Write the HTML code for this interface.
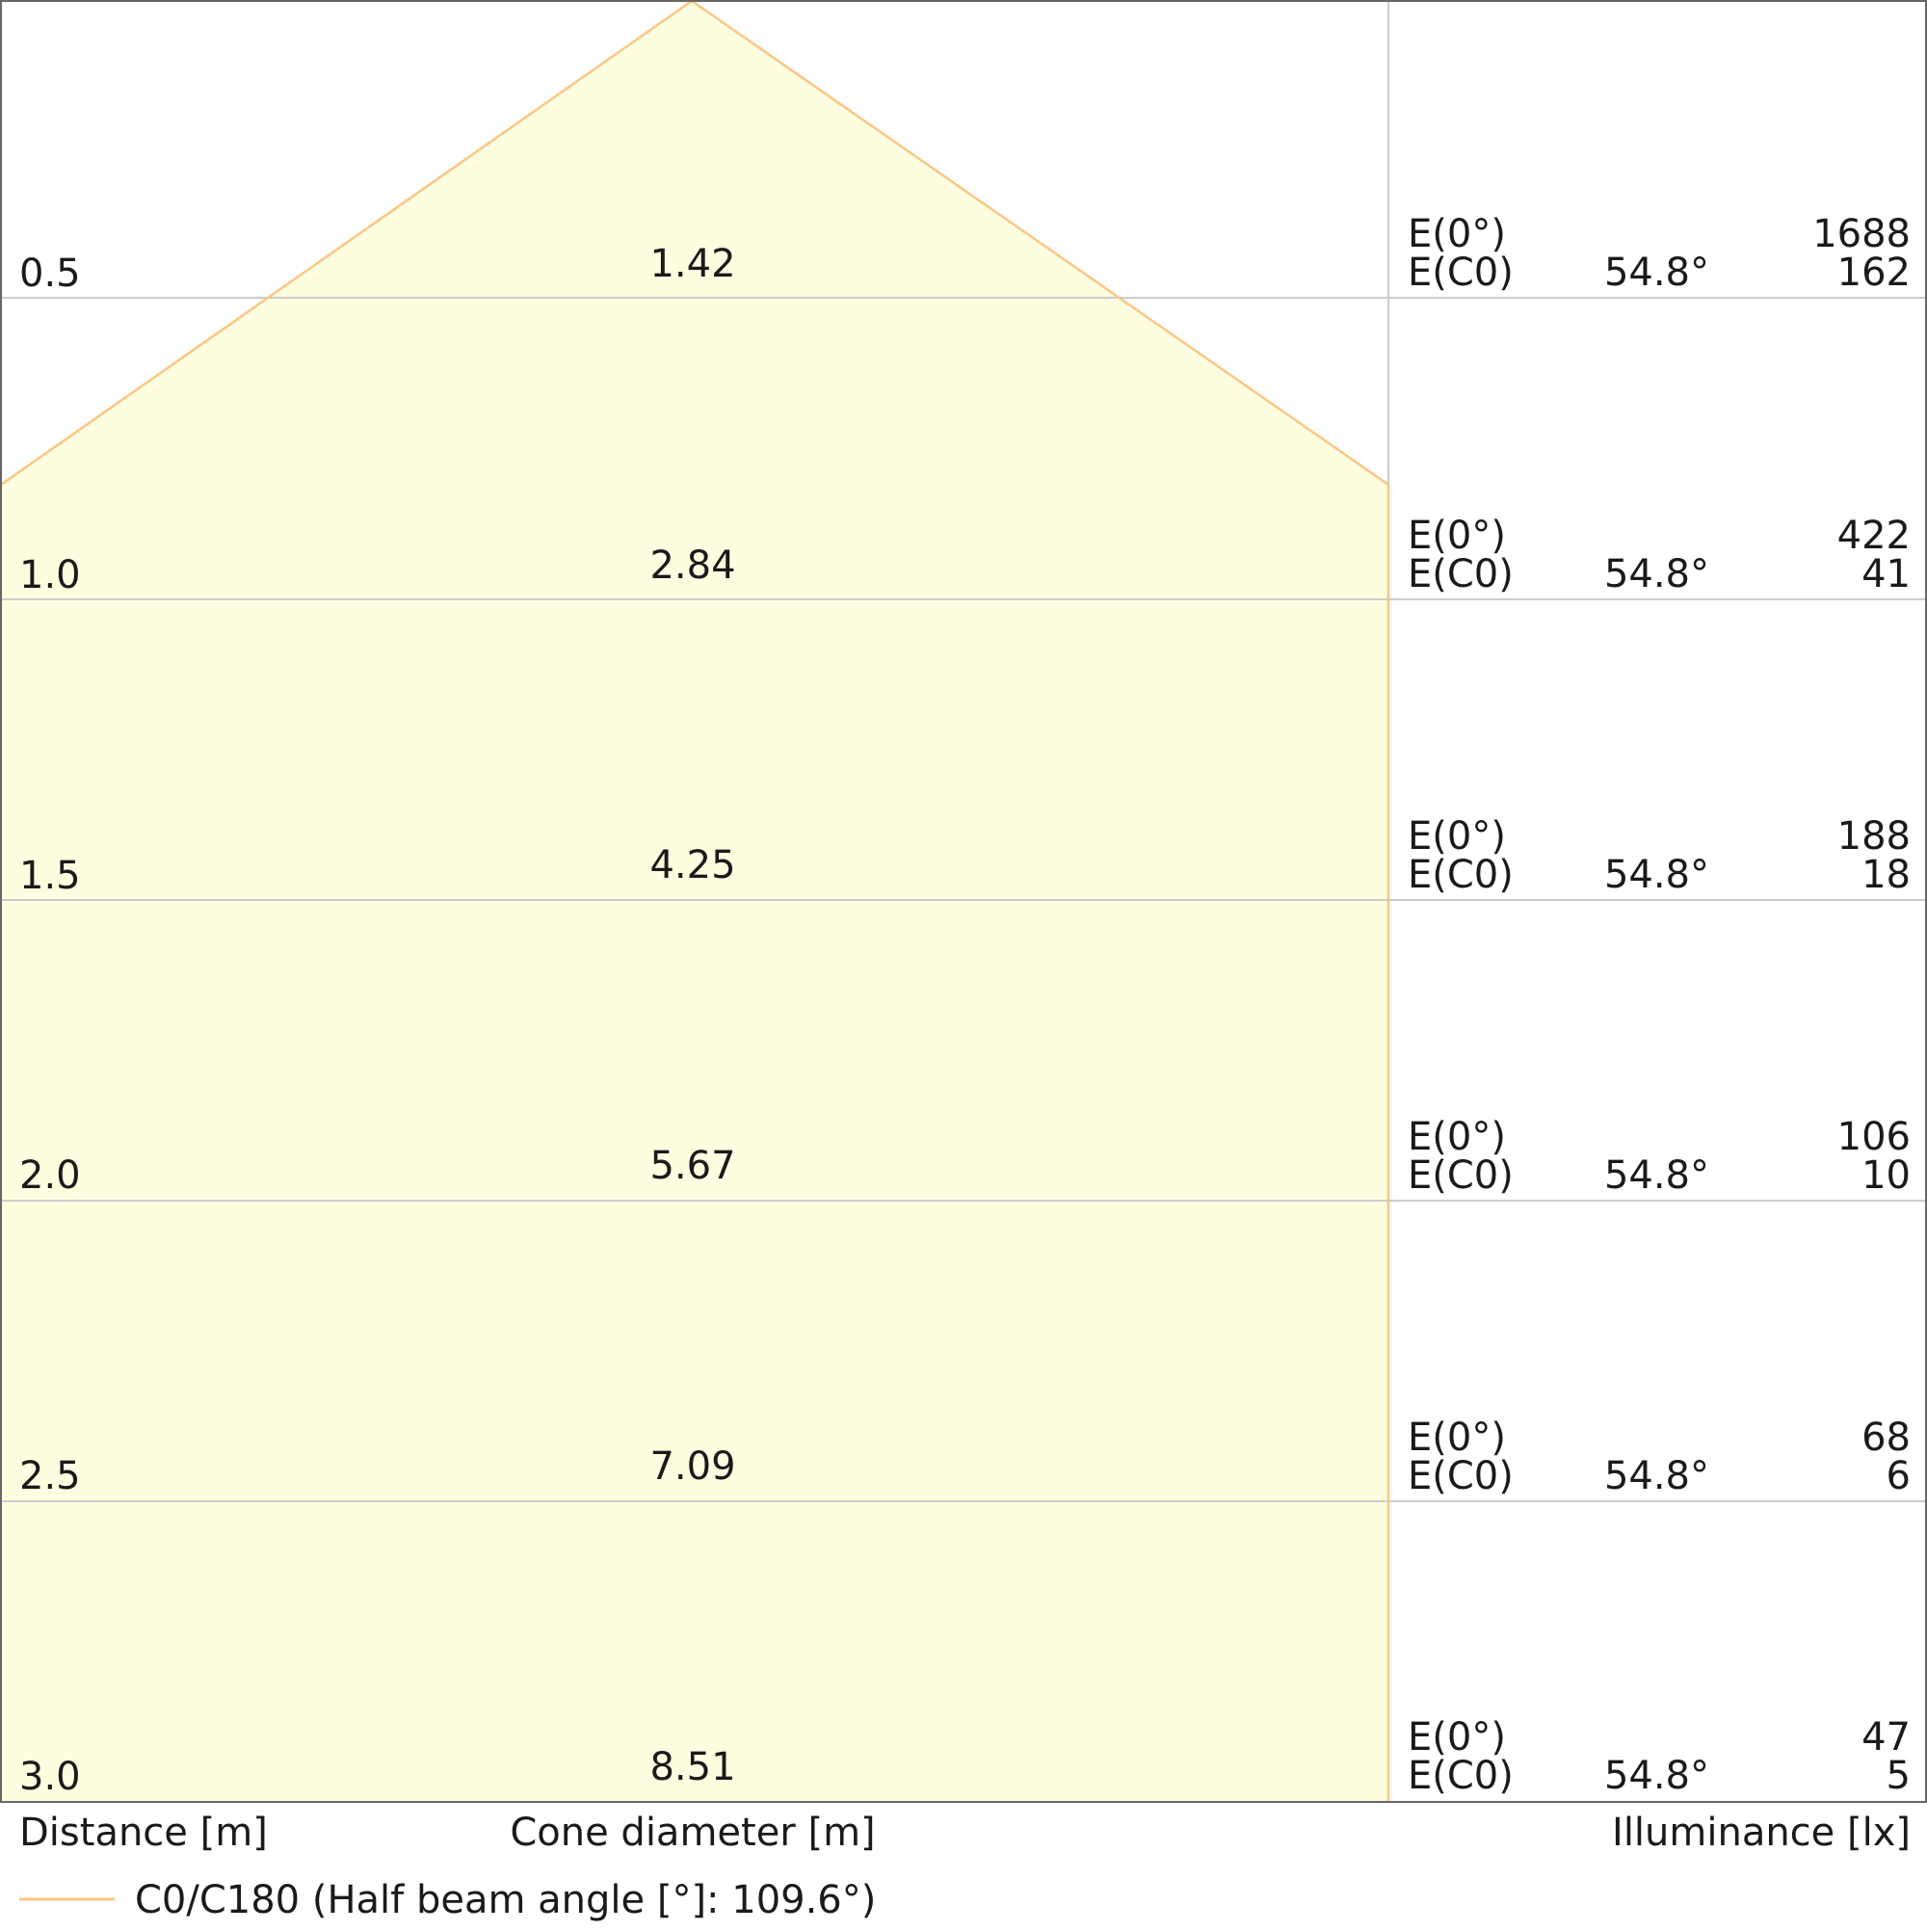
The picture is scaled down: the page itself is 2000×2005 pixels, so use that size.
<!DOCTYPE html>
<html><head><meta charset="utf-8"><style>
html,body{margin:0;padding:0;background:#fff;}
svg text{font-family:"DejaVu Sans","Liberation Sans",sans-serif;font-size:40px;fill:#1a1a1a;}
</style></head><body>
<svg width="2000" height="2000" viewBox="0 0 2000 2000" xmlns="http://www.w3.org/2000/svg">
<rect x="0" y="0" width="2000" height="2000" fill="#fff"/>
<polygon points="1,503 718,1 1441,503 1441,1870 1,1870" fill="#fefde0"/>
<g stroke="#cccccc" stroke-width="2">
<line x1="1" y1="309" x2="1999" y2="309"/>
<line x1="1" y1="622" x2="1999" y2="622"/>
<line x1="1" y1="934" x2="1999" y2="934"/>
<line x1="1" y1="1246" x2="1999" y2="1246"/>
<line x1="1" y1="1558" x2="1999" y2="1558"/>
<line x1="1441" y1="1" x2="1441" y2="1870"/>
</g>
<polyline points="1,503 718,1 1441,503 1441,1870" fill="none" stroke="#fbc583" stroke-width="2.5"/>
<rect x="1" y="1" width="1998" height="1869" fill="none" stroke="#666" stroke-width="2"/>
<g>
<text x="20" y="297">0.5</text><text x="20" y="610">1.0</text><text x="20" y="922">1.5</text>
<text x="20" y="1233">2.0</text><text x="20" y="1545">2.5</text><text x="20" y="1857">3.0</text>
</g>
<g text-anchor="middle">
<text x="719" y="287">1.42</text><text x="719" y="600">2.84</text><text x="719" y="911">4.25</text>
<text x="719" y="1223">5.67</text><text x="719" y="1535">7.09</text><text x="719" y="1847">8.51</text>
</g>
<g>
<text x="1461" y="256">E(0°)</text><text x="1461" y="296">E(C0)</text>
<text x="1461" y="569">E(0°)</text><text x="1461" y="609">E(C0)</text>
<text x="1461" y="881">E(0°)</text><text x="1461" y="921">E(C0)</text>
<text x="1461" y="1193">E(0°)</text><text x="1461" y="1233">E(C0)</text>
<text x="1461" y="1505">E(0°)</text><text x="1461" y="1545">E(C0)</text>
<text x="1461" y="1816">E(0°)</text><text x="1461" y="1856">E(C0)</text>
</g>
<g text-anchor="end">
<text x="1774" y="296">54.8°</text><text x="1774" y="609">54.8°</text><text x="1774" y="921">54.8°</text>
<text x="1774" y="1233">54.8°</text><text x="1774" y="1545">54.8°</text><text x="1774" y="1856">54.8°</text>
<text x="1983" y="256">1688</text><text x="1983" y="296">162</text>
<text x="1983" y="569">422</text><text x="1983" y="609">41</text>
<text x="1983" y="881">188</text><text x="1983" y="921">18</text>
<text x="1983" y="1193">106</text><text x="1983" y="1233">10</text>
<text x="1983" y="1505">68</text><text x="1983" y="1545">6</text>
<text x="1983" y="1816">47</text><text x="1983" y="1856">5</text>
<text x="1983" y="1915">Illuminance [lx]</text>
</g>
<text x="20" y="1915">Distance [m]</text>
<text x="719" y="1915" text-anchor="middle">Cone diameter [m]</text>
<line x1="20" y1="1971" x2="119" y2="1971" stroke="#fbc583" stroke-width="3"/>
<text x="140" y="1985">C0/C180 (Half beam angle [°]: 109.6°)</text>
</svg>
</body></html>
